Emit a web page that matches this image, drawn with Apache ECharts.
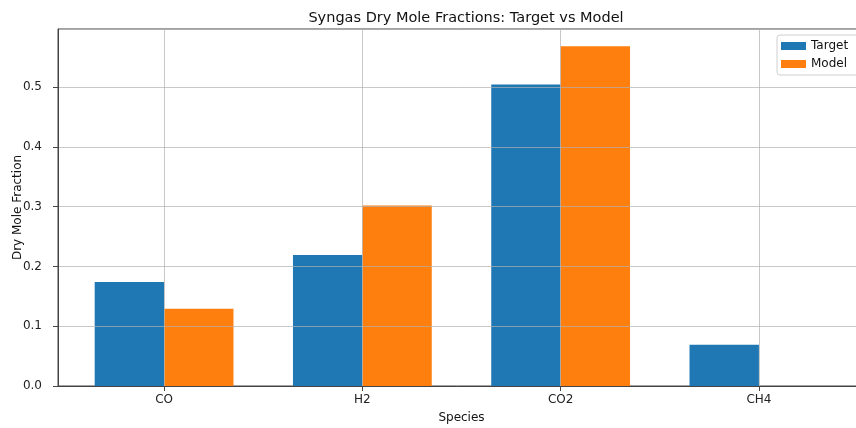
<!DOCTYPE html>
<html>
<head>
<meta charset="utf-8">
<script src="https://cdn.jsdelivr.net/npm/echarts@6/dist/echarts.min.js"></script>
<style>
  html, body { margin: 0; padding: 0; background: #fff; }
  #chart { width: 856px; height: 428px; }
</style>
</head>
<body>
<div id="chart"></div>
<script>
// Species and dry mole fractions
const categories = ['CO', 'H2', 'CO2', 'CH4'];
const targetValues = [0.174, 0.219, 0.504, 0.069];
const modelValues = [0.129, 0.302, 0.568, 0.0];
const yTicks = [0, 0.1, 0.2, 0.3, 0.4, 0.5];

const BAR_W = 0.35;
const FONT = 'DejaVu Sans';

// Grouped bars drawn in axis units: each bar spans BAR_W on the x scale
function barRenderer(offset) {
  return function (params, api) {
    const x = api.value(0);
    const v = api.value(1);
    const top = api.coord([x + offset, v]);
    const base = api.coord([x + offset + BAR_W, 0]);
    return {
      type: 'rect',
      shape: { x: top[0], y: top[1], width: base[0] - top[0], height: base[1] - top[1] },
      style: api.style()
    };
  };
}

const chart = echarts.init(document.getElementById('chart'), null, { renderer: 'canvas' });
chart.setOption({
  animation: false,
  backgroundColor: '#ffffff',
  textStyle: { fontFamily: FONT },
  title: {
    text: 'Syngas Dry Mole Fractions: Target vs Model',
    left: 461, top: 6, textAlign: 'center',
    textStyle: { fontFamily: FONT, fontSize: 14.5, fontWeight: 'normal', color: '#111' }
  },
  grid: {
    left: 58, top: 29, width: 807, height: 357,
    outerBoundsMode: 'none',
    containLabel: false,
    show: true, borderColor: '#444', borderWidth: 1, backgroundColor: 'transparent'
  },
  legend: {
    orient: 'vertical',
    left: 777, top: 35,
    padding: [5, 10, 5, 4],
    itemGap: 6,
    itemWidth: 25, itemHeight: 8,
    icon: 'rect',
    backgroundColor: 'rgba(255,255,255,0.85)',
    borderColor: '#d0d0d0', borderWidth: 1, borderRadius: 3,
    textStyle: { fontFamily: FONT, fontSize: 12, color: '#111' },
    z: 10,
    data: ['Target', 'Model']
  },
  xAxis: {
    type: 'value',
    min: -0.535, max: 3.535,
    name: 'Species', nameLocation: 'middle', nameGap: 26,
    nameMoveOverlap: false,
    nameTextStyle: { fontFamily: FONT, fontSize: 12, color: '#111' },
    z: 5,
    axisLine: { show: true, onZero: false, lineStyle: { color: '#444', width: 1 } },
    axisTick: { show: true, length: 5, customValues: [0, 1, 2, 3], lineStyle: { color: '#444' } },
    axisLabel: {
      customValues: [0, 1, 2, 3],
      formatter: function (v) { return categories[Math.round(v)]; },
      fontFamily: FONT, fontSize: 12, color: '#222', margin: 8
    },
    splitLine: { show: true, lineStyle: { color: 'rgba(176,176,176,0.7)', width: 1 } }
  },
  yAxis: {
    type: 'value',
    min: 0, max: 0.597, interval: 0.1,
    name: 'Dry Mole Fraction', nameLocation: 'middle', nameGap: 34, nameRotate: 90,
    nameMoveOverlap: false,
    nameTextStyle: { fontFamily: FONT, fontSize: 12, color: '#111' },
    z: 5,
    axisLine: { show: true, onZero: false, lineStyle: { color: '#444', width: 1 } },
    axisTick: { show: true, length: 5, lineStyle: { color: '#444' } },
    axisLabel: {
      showMaxLabel: false,
      formatter: function (v) {
        return yTicks.some(t => Math.abs(t - v) < 1e-9) ? v.toFixed(1) : '';
      },
      fontFamily: FONT, fontSize: 12, color: '#222', margin: 16
    },
    splitLine: { show: true, lineStyle: { color: 'rgba(176,176,176,0.7)', width: 1 } }
  },
  series: [
    {
      name: 'Target', type: 'custom', z: 1,
      itemStyle: { color: '#1f77b4' },
      renderItem: barRenderer(-BAR_W),
      encode: { x: 0, y: 1 },
      data: categories.map((c, i) => [i, targetValues[i]])
    },
    {
      name: 'Model', type: 'custom', z: 1,
      itemStyle: { color: '#ff7f0e' },
      renderItem: barRenderer(0),
      encode: { x: 0, y: 1 },
      data: categories.map((c, i) => [i, modelValues[i]])
    }
  ]
});
</script>
</body>
</html>
